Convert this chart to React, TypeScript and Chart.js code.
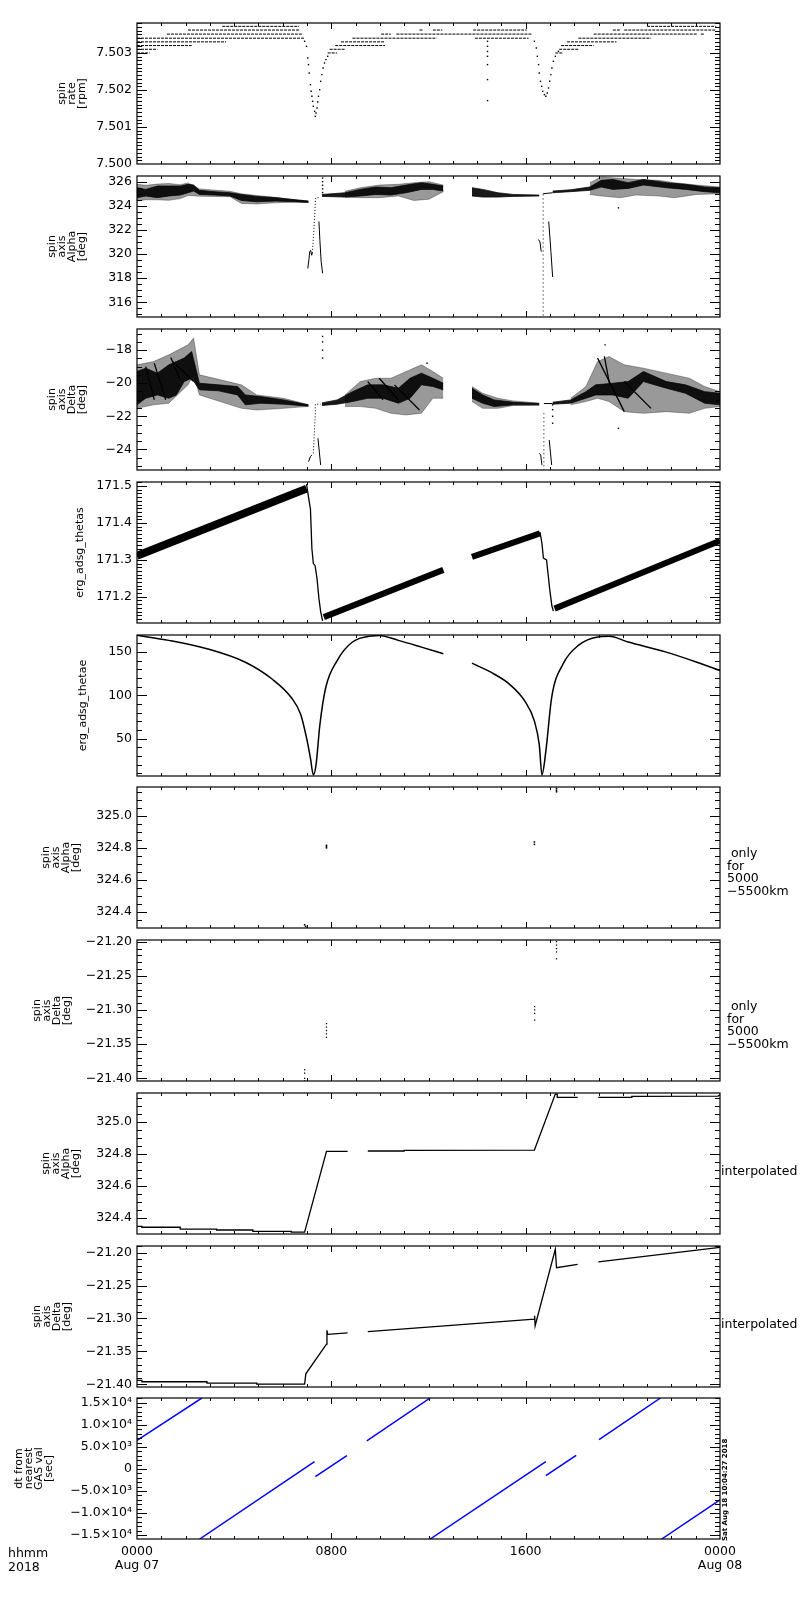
import React, { useEffect, useRef } from 'react';
import { Chart, registerables } from 'chart.js';

Chart.register(...registerables);

const FONT = '"DejaVu Sans", sans-serif';
const M = 14; // canvas margin above / below the plot box
const BOX_H = 141; // plot box height
const XLAB = 40; // room for the time labels under the last panel
const panelTops = [23, 176, 329, 482, 635, 787, 940, 1093, 1246, 1398];

// time axis, hours since 0000 Aug 07
const hourTicks = [0, 8, 16, 24];
const hourLabels = [['0000', 'Aug 07'], ['0800'], ['1600'], ['0000', 'Aug 08']];

// ---- spin rate [rpm] ----
const rateTicks = [7.5, 7.501, 7.502, 7.503];
const rateTickLabels = ['7.500', '7.501', '7.502', '7.503'];
const rateLevels = [7.50372, 7.50362, 7.50351, 7.5034, 7.5033, 7.5032, 7.5031, 7.503];
const rateRuns = [
  [[3.51, 6.67], [21.0, 23.84]],
  [[2.1, 6.67], [11.63, 11.79], [12.18, 12.57], [13.84, 16.04], [19.59, 19.9], [20.06, 23.84]],
  [[1.23, 6.82], [10.05, 10.45], [10.68, 16.28], [18.8, 23.05], [23.21, 23.37]],
  [[0, 6.9], [8.87, 12.34], [13.91, 16.12], [18.17, 21.16]],
  [[0, 3.67], [8.4, 10.21], [17.7, 19.74]],
  [[0, 2.25], [8.16, 10.21], [17.46, 18.8]],
  [[0, 0.84], [7.93, 8.56], [17.38, 18.17]],
  [[0, 0.52], [7.85, 8.24], [17.22, 17.54]],
];
const rateDip1 = [
  [6.9, 7.503315], [6.98, 7.50318], [7.03, 7.502865], [7.06, 7.502685], [7.09, 7.50246], [7.14, 7.502144],
  [7.17, 7.501964], [7.2, 7.501829], [7.23, 7.501694], [7.26, 7.501559], [7.31, 7.501423], [7.34, 7.501288],
  [7.37, 7.501378], [7.41, 7.501514], [7.44, 7.501676], [7.47, 7.501829], [7.52, 7.502009], [7.56, 7.502234],
  [7.61, 7.502414], [7.66, 7.502595], [7.72, 7.50273], [7.78, 7.50282], [7.85, 7.50291],
];
const rateDip2 = [
  [16.36, 7.503315], [16.44, 7.503135], [16.48, 7.50291], [16.53, 7.502685], [16.56, 7.50246], [16.61, 7.502234],
  [16.66, 7.502099], [16.7, 7.501964], [16.77, 7.501874], [16.83, 7.501829], [16.89, 7.501919], [16.94, 7.502054],
  [16.99, 7.502234], [17.04, 7.502414], [17.08, 7.502595], [17.14, 7.502775], [17.22, 7.50291], [17.35, 7.503045],
];
const rateStray = [[14.43, 7.503315], [14.43, 7.50318], [14.43, 7.50304], [14.43, 7.50291], [14.43, 7.502685], [14.43, 7.50228], [14.43, 7.501712]];

// ---- spin axis Alpha [deg] : [t, high, low] ----
const alphaTicks = [316, 318, 320, 322, 324, 326];
const alphaTickLabels = ['316', '318', '320', '322', '324', '326'];
const alphaEnvA = [
  [0, 325.78, 324.39], [0.36, 325.7, 324.5], [0.84, 325.8, 324.5], [1.31, 325.85, 324.45], [1.78, 325.75, 324.6],
  [2.1, 325.9, 324.85], [2.57, 325.4, 324.8], [3.83, 325.2, 324.75], [4.3, 325.0, 324.2], [4.93, 324.85, 324.15],
  [5.72, 324.7, 324.25], [6.51, 324.5, 324.3], [7.06, 324.4, 324.28],
];
const alphaCoreA = [
  [0, 325.5, 324.67], [0.36, 325.36, 324.81], [0.84, 325.64, 324.67], [1.31, 325.64, 324.81], [1.78, 325.64, 324.89],
  [2.1, 325.78, 325.08], [2.33, 325.72, 325.22], [2.57, 325.28, 324.94], [3.2, 325.17, 324.89], [3.83, 325.08, 324.81],
  [4.3, 324.94, 324.44], [4.93, 324.78, 324.33], [5.72, 324.67, 324.39], [6.51, 324.5, 324.33], [7.06, 324.39, 324.28],
];
const alphaEnvB = [
  [8.56, 325.2, 324.7], [9.19, 325.5, 324.67], [9.97, 325.72, 324.67], [10.76, 325.78, 324.81],
  [11.4, 325.92, 324.44], [12.02, 326.0, 324.55], [12.61, 325.72, 325.17],
];
const alphaCoreB = [
  [7.61, 324.94, 324.78], [8.56, 325.08, 324.72], [9.19, 325.36, 324.81], [9.82, 325.56, 324.94], [10.45, 325.5, 324.89],
  [11.08, 325.72, 325.08], [11.71, 325.92, 325.36], [12.18, 325.78, 325.36], [12.61, 325.64, 325.22],
];
const alphaCoreC = [[13.79, 325.5, 324.81], [14.23, 325.36, 324.72], [14.86, 325.08, 324.72], [15.49, 324.94, 324.78], [16.56, 324.89, 324.81]];
const alphaEnvD = [
  [18.64, 325.92, 324.94], [19.11, 326.39, 324.81], [19.9, 326.28, 324.67], [20.53, 326.19, 324.89],
  [21.48, 326.11, 324.81], [22.11, 325.92, 324.67], [23.05, 325.72, 324.94], [24, 325.56, 325.0],
];
const alphaCoreD = [
  [17.11, 325.22, 325.08], [17.85, 325.33, 325.17], [18.64, 325.56, 325.28], [19.11, 326.11, 325.56], [19.59, 326.19, 325.36],
  [20.22, 325.92, 325.44], [20.85, 326.19, 325.72], [21.79, 325.92, 325.5], [22.58, 325.78, 325.36], [23.37, 325.56, 325.17], [24, 325.5, 325.08],
];
const alphaDipA1 = [[7.03, 318.8], [7.08, 319.6], [7.11, 320.2], [7.15, 320.3], [7.19, 319.9], [7.22, 320.1]];
const alphaRiseA = [[7.22, 320.1], [7.27, 321.6], [7.31, 323.0], [7.34, 324.2], [7.36, 324.67], [7.55, 324.67]];
const alphaDipA2 = [[7.49, 322.7], [7.53, 321.1], [7.58, 319.4], [7.64, 318.4]];
const alphaSpikeA = [[7.64, 326.3], [7.64, 326.0], [7.64, 325.7], [7.64, 325.4], [7.64, 325.1]];
const alphaDipC1 = [[16.53, 321.2], [16.59, 321.0], [16.64, 320.2]];
const alphaFallC = [[16.72, 324.94], [16.72, 314.78]];
const alphaDipC2 = [[16.95, 322.7], [17.04, 320.2], [17.11, 318.1]];
const alphaFlatC = [[16.72, 325.0], [17.11, 325.08]];
const alphaStray = [[19.82, 323.83]];

// ---- spin axis Delta [deg] : [t, high, low] ----
const deltaTicks = [-24, -22, -20, -18];
const deltaTickLabels = ['−24', '−22', '−20', '−18'];
const deltaEnvA = [
  [0, -18.89, -21.52], [0.68, -18.69, -21.31], [1.31, -18.28, -21.21], [2.1, -17.68, -20.1], [2.33, -17.27, -19.49],
  [2.57, -19.49, -20.71], [4.3, -20.1, -21.52], [4.93, -20.71, -21.62], [6.04, -20.91, -21.52], [7.06, -21.3, -21.4],
];
const deltaCoreA = [
  [0, -19.29, -21.31], [0.36, -19.09, -20.91], [0.84, -19.39, -20.71], [1.31, -18.89, -20.91], [1.62, -18.69, -20.71],
  [1.94, -18.48, -19.9], [2.25, -18.08, -19.7], [2.57, -20.0, -20.4], [3.36, -20.1, -20.46], [4.14, -20.2, -20.71],
  [4.46, -20.71, -21.31], [5.09, -20.81, -21.21], [6.04, -21.01, -21.27], [7.06, -21.31, -21.39],
];
const deltaEnvB = [
  [8.56, -20.71, -21.41], [9.19, -19.9, -21.41], [9.82, -19.7, -21.52], [10.45, -19.7, -21.82],
  [11.08, -19.29, -21.92], [11.71, -18.89, -21.82], [12.18, -19.29, -20.91], [12.61, -19.7, -20.91],
];
const deltaCoreB = [
  [7.61, -21.19, -21.35], [8.24, -21.01, -21.27], [8.87, -20.51, -21.11], [9.5, -20.1, -20.91], [10.13, -20.1, -20.91],
  [10.76, -20.3, -21.21], [11.24, -19.7, -20.91], [11.71, -19.39, -20.1], [12.18, -19.7, -20.2], [12.61, -20.0, -20.4],
];
const deltaEnvC = [[13.79, -20.2, -21.11], [14.23, -20.61, -21.52], [14.86, -20.91, -21.52], [15.49, -21.07, -21.35], [16.56, -21.2, -21.33]];
const deltaCoreC = [[13.79, -20.3, -20.91], [14.23, -20.71, -21.21], [14.7, -21.01, -21.41], [15.49, -21.15, -21.31], [16.56, -21.23, -21.31]];
const deltaEnvD = [
  [17.85, -20.91, -21.31], [18.48, -20.2, -21.11], [18.96, -18.69, -20.91], [19.43, -18.38, -21.11], [20.06, -18.89, -21.72],
  [20.85, -19.09, -21.82], [21.79, -19.39, -21.72], [22.74, -19.7, -21.82], [23.37, -20.2, -21.52], [24, -20.51, -21.41],
];
const deltaCoreD = [
  [17.11, -21.15, -21.27], [17.85, -21.01, -21.21], [18.48, -20.51, -20.91], [18.88, -20.1, -20.71], [19.59, -20.0, -20.71],
  [20.22, -19.9, -20.91], [20.85, -19.29, -19.9], [21.79, -19.9, -20.3], [22.58, -20.1, -20.61], [23.37, -20.51, -21.21], [24, -20.61, -21.31],
];
const deltaSaws = [
  [[0.36, -19.0], [0.71, -21.0]], [[0.71, -18.79], [1.18, -21.0]], [[1.39, -18.44], [1.75, -19.7]], [[1.47, -18.69], [2.33, -19.9]],
  [[9.5, -19.9], [10.13, -21.0]], [[9.97, -19.7], [10.76, -21.0]], [[10.6, -20.1], [11.63, -21.62]],
  [[18.96, -18.48], [20.06, -21.72]], [[19.24, -18.38], [19.46, -20.1]], [[20.06, -19.9], [21.16, -21.52]],
];
const deltaDipA1 = [[7.06, -24.75], [7.14, -24.44], [7.2, -24.34]];
const deltaRiseA = [[7.26, -24.24], [7.34, -21.82], [7.34, -21.27], [7.56, -21.27]];
const deltaDipA2 = [[7.45, -23.33], [7.56, -24.95]];
const deltaDipC1 = [[16.56, -24.24], [16.62, -24.34], [16.67, -24.95]];
const deltaFallC = [[16.75, -21.82], [16.75, -25.25]];
const deltaDipC2 = [[16.97, -23.43], [17.07, -24.95]];
const deltaFlatC = [[16.75, -21.23], [17.11, -21.23]];
const deltaStray = [
  [7.64, -17.17], [7.64, -17.5], [7.64, -18.0], [7.64, -18.48], [11.94, -18.79],
  [17.11, -21.31], [17.11, -21.6], [17.11, -22.0], [17.11, -22.42], [19.82, -22.73], [19.27, -17.68],
];

// ---- erg_adsg_thetas ----
const thetasTicks = [171.2, 171.3, 171.4, 171.5];
const thetasTickLabels = ['171.2', '171.3', '171.4', '171.5'];
const thetasRampA = [[0, 171.311], [6.98, 171.493]];
const thetasDropA = [
  [6.98, 171.505], [7.06, 171.47], [7.14, 171.438], [7.2, 171.33], [7.26, 171.29], [7.33, 171.285],
  [7.41, 171.25], [7.49, 171.195], [7.56, 171.16], [7.64, 171.135],
];
const thetasRampB = [[7.69, 171.145], [12.61, 171.273]];
const thetasRampC = [[13.79, 171.308], [16.59, 171.372]];
const thetasDropC = [[16.59, 171.375], [16.67, 171.345], [16.73, 171.305], [16.86, 171.3], [16.99, 171.22], [17.08, 171.175], [17.14, 171.161]];
const thetasRampD = [[17.19, 171.168], [24, 171.352]];

// ---- erg_adsg_thetae ----
const thetaeTicks = [50, 100, 150];
const thetaeTickLabels = ['50', '100', '150'];
const thetaeA = [
  [0, 169.5], [1.31, 163.6], [2.88, 153.9], [4.46, 138.3], [5.56, 118.9], [6.35, 97.5], [6.74, 78.0], [6.98, 50.8],
  [7.14, 27.4], [7.26, 8.0], [7.37, 19.6], [7.53, 66.3], [7.77, 109.1], [8.24, 140.3], [8.87, 161.7], [9.66, 168.7],
  [9.97, 169.1], [10.76, 163.6], [11.71, 155.8], [12.61, 148.1],
];
const thetaeB = [
  [13.79, 137.2], [14.7, 124.7], [15.33, 113.0], [15.96, 93.6], [16.36, 70.2], [16.56, 43.0], [16.67, 8.0], [16.83, 35.2],
  [17.07, 97.5], [17.54, 136.4], [18.17, 157.8], [18.96, 167.5], [19.43, 168.3], [20.22, 161.7], [21.79, 150.0], [23.05, 138.3], [24, 128.6],
];

// ---- spin axis, 5000-5500 km only ----
const alphaKmTicks = [324.4, 324.6, 324.8, 325.0];
const alphaKmTickLabels = ['324.4', '324.6', '324.8', '325.0'];
const alphaKm = [
  [7.8, 324.816], [7.8, 324.808], [7.8, 324.8], [16.36, 324.837], [16.36, 324.822],
  [6.9, 324.32], [6.94, 324.31], [6.98, 324.298], [17.27, 325.171], [17.27, 325.16], [17.27, 325.15],
];
const deltaKmTicks = [-21.4, -21.35, -21.3, -21.25, -21.2];
const deltaKmTickLabels = ['−21.40', '−21.35', '−21.30', '−21.25', '−21.20'];
const deltaKm = [
  [17.27, -21.2], [17.27, -21.205], [17.27, -21.21], [17.27, -21.215], [17.27, -21.225],
  [16.37, -21.295], [16.37, -21.3], [16.37, -21.305], [16.37, -21.315],
  [7.8, -21.32], [7.8, -21.325], [7.8, -21.33], [7.8, -21.335], [7.8, -21.34],
  [6.9, -21.3875], [6.9, -21.3925], [6.9, -21.4], [6.9, -21.404],
];

// ---- spin axis, interpolated ----
const alphaIntA = [
  [0, 324.348], [0.2, 324.348], [0.2, 324.342], [1.78, 324.342], [1.78, 324.331], [3.28, 324.331], [3.28, 324.325],
  [4.77, 324.325], [4.77, 324.317], [6.35, 324.317], [6.35, 324.312], [6.9, 324.312], [7.8, 324.816], [8.67, 324.816],
];
const alphaIntB = [[9.5, 324.818], [11.0, 324.818], [11.0, 324.822], [16.36, 324.824], [17.22, 325.173], [17.3, 325.173], [17.3, 325.153], [18.14, 325.153]];
const alphaIntC = [[18.99, 325.153], [20.37, 325.153], [20.37, 325.159], [23.92, 325.161], [24, 325.169]];
const deltaIntA = [
  [0, -21.394], [0.2, -21.394], [0.2, -21.396], [2.88, -21.396], [2.88, -21.398], [4.93, -21.398], [4.93, -21.3995],
  [6.9, -21.3995], [6.95, -21.384], [7.8, -21.339], [7.82, -21.318], [7.85, -21.324], [8.67, -21.322],
];
const deltaIntB = [[9.5, -21.32], [16.36, -21.301], [16.37, -21.296], [16.39, -21.311], [17.22, -21.195], [17.27, -21.223], [18.14, -21.218]];
const deltaIntC = [[18.99, -21.214], [24, -21.192]];

// ---- dt from nearest GAS val [sec] ----
const dtTicks = [-15000, -10000, -5000, 0, 5000, 10000, 15000];
const dtTickLabels = ['−1.5×10⁴', '−1.0×10⁴', '−5.0×10³', '0', '5.0×10³', '1.0×10⁴', '1.5×10⁴'];
const dtSegments = [
  [[0, 6500], [2.67, 16100]],
  [[2.58, -15900], [7.31, 1667]],
  [[7.34, -1742], [8.64, 3030]],
  [[9.46, 6364], [12.07, 16100]],
  [[12.07, -15900], [16.83, 1667]],
  [[16.83, -1515], [18.08, 3106]],
  [[19.02, 6667], [21.55, 16100]],
  [[21.6, -15900], [24, -7000]],
];

const xy = (a: number[][]) => a.map(([x, y]) => ({ x, y }));
const line = (a: number[][], o: any = {}) => ({
  data: xy(a), borderColor: '#000', borderWidth: 1, pointRadius: 0, fill: false, ...o,
});
const dots = (a: number[][], r = 1) => ({
  data: xy(a), showLine: false, pointRadius: r, pointStyle: 'rect',
  pointBackgroundColor: '#000', pointBorderWidth: 0, borderColor: '#000',
});
const band = (a: number[][], color: string) => [
  { data: a.map(([x, hi]) => ({ x, y: hi })), borderColor: color, borderWidth: 0.8, pointRadius: 0, fill: false },
  { data: a.map(([x, , lo]) => ({ x, y: lo })), borderColor: color, borderWidth: 0.8, pointRadius: 0, fill: '-1', backgroundColor: color },
];
const ENV = 'rgba(0,0,0,0.4)';
const CORE = 'rgba(0,0,0,0.9)';

const rateSets = [
  ...rateLevels.map((lv, i) => ({
    data: rateRuns[i].flatMap(([a, b]) => [{ x: a, y: lv }, { x: b, y: lv }, { x: b, y: null }]),
    borderColor: '#000', borderWidth: 1, borderDash: [3, 1], pointRadius: 0, spanGaps: false,
  })),
  dots(rateDip1), dots(rateDip2), dots(rateStray),
];

const alphaSets = [
  ...band(alphaEnvA, ENV), ...band(alphaEnvB, ENV), ...band(alphaEnvD, ENV),
  ...band(alphaCoreA, CORE), ...band(alphaCoreB, CORE), ...band(alphaCoreC, CORE), ...band(alphaCoreD, CORE),
  line(alphaDipA1), line(alphaRiseA, { borderDash: [1, 2] }), line(alphaDipA2),
  line(alphaDipC1), line(alphaFallC, { borderDash: [1, 3] }), line(alphaDipC2), line(alphaFlatC),
  dots(alphaSpikeA), dots(alphaStray),
];

const deltaSets = [
  ...band(deltaEnvA, ENV), ...band(deltaEnvB, ENV), ...band(deltaEnvC, ENV), ...band(deltaEnvD, ENV),
  ...band(deltaCoreA, CORE), ...band(deltaCoreB, CORE), ...band(deltaCoreC, CORE), ...band(deltaCoreD, CORE),
  ...deltaSaws.map((s) => line(s, { borderWidth: 1.3 })),
  line(deltaDipA1), line(deltaRiseA, { borderDash: [1, 2] }), line(deltaDipA2),
  line(deltaDipC1), line(deltaFallC, { borderDash: [1, 3] }), line(deltaDipC2), line(deltaFlatC),
  dots(deltaStray),
];

const thetasSets = [
  line(thetasRampA, { borderWidth: 8 }), line(thetasRampB, { borderWidth: 6 }),
  line(thetasRampC, { borderWidth: 6 }), line(thetasRampD, { borderWidth: 6 }),
  line(thetasDropA, { borderWidth: 1.3 }), line(thetasDropC, { borderWidth: 1.3 }),
];

const thetaeSets = [
  line(thetaeA, { borderWidth: 1.5, cubicInterpolationMode: 'monotone' }),
  line(thetaeB, { borderWidth: 1.5, cubicInterpolationMode: 'monotone' }),
];

const dtSets = dtSegments.map((s) => line(s, { borderColor: '#0000ff', borderWidth: 1.5 }));

type PanelCfg = {
  top: number; yMin: number; yMax: number; ticks: number[]; labels: string[]; minor: number;
  title: string | string[]; titleX: number; datasets: any[]; xLabels?: boolean;
};

const panels: PanelCfg[] = [
  { top: panelTops[0], yMin: 7.5, yMax: 7.50381, ticks: rateTicks, labels: rateTickLabels, minor: 0.0001, title: ['spin', 'rate', '[rpm]'], titleX: 62, datasets: rateSets },
  { top: panelTops[1], yMin: 314.78, yMax: 326.47, ticks: alphaTicks, labels: alphaTickLabels, minor: 0.5, title: ['spin', 'axis', 'Alpha', '[deg]'], titleX: 52, datasets: alphaSets },
  { top: panelTops[2], yMin: -25.25, yMax: -16.72, ticks: deltaTicks, labels: deltaTickLabels, minor: 0.5, title: ['spin', 'axis', 'Delta', '[deg]'], titleX: 52, datasets: deltaSets },
  { top: panelTops[3], yMin: 171.129, yMax: 171.511, ticks: thetasTicks, labels: thetasTickLabels, minor: 0.01, title: 'erg_adsg_thetas', titleX: 80, datasets: thetasSets },
  { top: panelTops[4], yMin: 6.8, yMax: 169.8, ticks: thetaeTicks, labels: thetaeTickLabels, minor: 10, title: 'erg_adsg_thetae', titleX: 83, datasets: thetaeSets },
  { top: panelTops[5], yMin: 324.3, yMax: 325.18, ticks: alphaKmTicks, labels: alphaKmTickLabels, minor: 0.05, title: ['spin', 'axis', 'Alpha', '[deg]'], titleX: 46, datasets: [dots(alphaKm, 1.1)] },
  { top: panelTops[6], yMin: -21.404, yMax: -21.1975, ticks: deltaKmTicks, labels: deltaKmTickLabels, minor: 0.01, title: ['spin', 'axis', 'Delta', '[deg]'], titleX: 37, datasets: [dots(deltaKm, 0.9)] },
  { top: panelTops[7], yMin: 324.3, yMax: 325.18, ticks: alphaKmTicks, labels: alphaKmTickLabels, minor: 0.05, title: ['spin', 'axis', 'Alpha', '[deg]'], titleX: 46, datasets: [line(alphaIntA, { borderWidth: 1.3 }), line(alphaIntB, { borderWidth: 1.3 }), line(alphaIntC, { borderWidth: 1.3 })] },
  { top: panelTops[8], yMin: -21.404, yMax: -21.19, ticks: deltaKmTicks, labels: deltaKmTickLabels, minor: 0.01, title: ['spin', 'axis', 'Delta', '[deg]'], titleX: 37, datasets: [line(deltaIntA, { borderWidth: 1.3 }), line(deltaIntB, { borderWidth: 1.3 }), line(deltaIntC, { borderWidth: 1.3 })] },
  { top: panelTops[9], yMin: -15900, yMax: 16100, ticks: dtTicks, labels: dtTickLabels, minor: 1000, title: ['dt from', 'nearest', 'GAS val', '[sec]'], titleX: 19, datasets: dtSets, xLabels: true },
];

// IDL style box: frame plus inward ticks on all four sides
const idlFrame = {
  id: 'idlFrame',
  afterDraw(chart: any, _args: any, opts: any) {
    const { ctx, chartArea: a, scales } = chart;
    const ys = scales.y, xs = scales.x;
    ctx.save();
    ctx.strokeStyle = '#000';
    ctx.lineWidth = 1;
    ctx.beginPath();
    const tickY = (v: number, len: number) => {
      const p = Math.round(ys.getPixelForValue(v)) + 0.5;
      if (p < a.top || p > a.bottom) return;
      ctx.moveTo(a.left, p); ctx.lineTo(a.left + len, p);
      ctx.moveTo(a.right, p); ctx.lineTo(a.right - len, p);
    };
    const tickX = (v: number, len: number) => {
      const p = Math.round(xs.getPixelForValue(v)) + 0.5;
      ctx.moveTo(p, a.bottom); ctx.lineTo(p, a.bottom - len);
      ctx.moveTo(p, a.top); ctx.lineTo(p, a.top + len);
    };
    const step = opts.minor;
    for (let k = Math.ceil(opts.min / step - 1e-6); k * step <= opts.max + 1e-9; k++) tickY(k * step, 5);
    opts.ticks.forEach((v: number) => tickY(v, 10));
    for (let h = 1; h < 24; h++) tickX(h, h % 8 === 0 ? 6 : 3);
    ctx.stroke();
    ctx.lineWidth = 1.2;
    ctx.strokeRect(a.left, a.top, a.right - a.left, a.bottom - a.top);
    ctx.restore();
  },
};

function Panel({ cfg }: { cfg: PanelCfg }) {
  const ref = useRef<HTMLCanvasElement>(null);
  const h = BOX_H + M + (cfg.xLabels ? XLAB : M);

  useEffect(() => {
    if (!ref.current) return;
    const titleLines = Array.isArray(cfg.title) ? cfg.title : [cfg.title];
    const chart = new Chart(ref.current, {
      type: 'line',
      data: { datasets: cfg.datasets },
      options: {
        responsive: false,
        animation: false,
        events: [],
        layout: { padding: { left: 0, right: 80, top: M, bottom: cfg.xLabels ? 0 : M } },
        plugins: {
          legend: { display: false },
          tooltip: { enabled: false },
          idlFrame: { min: cfg.yMin, max: cfg.yMax, ticks: cfg.ticks, minor: cfg.minor },
        } as any,
        scales: {
          x: {
            type: 'linear', min: 0, max: 24, display: !!cfg.xLabels,
            grid: { display: false, drawTicks: false }, border: { display: false },
            afterBuildTicks: (s: any) => { s.ticks = hourTicks.map((v) => ({ value: v })); },
            afterFit: (s: any) => { s.height = cfg.xLabels ? XLAB : 0; },
            ticks: {
              autoSkip: false, maxRotation: 0, padding: 6, color: '#000',
              font: { family: FONT, size: 12.5, lineHeight: 1.1 },
              callback: (_v: any, i: number) => hourLabels[i],
            },
          },
          y: {
            type: 'linear', min: cfg.yMin, max: cfg.yMax,
            grid: { display: false, drawTicks: false }, border: { display: false },
            afterBuildTicks: (s: any) => { s.ticks = cfg.ticks.map((v) => ({ value: v })); },
            afterFit: (s: any) => { s.width = 137; },
            ticks: {
              padding: 5, color: '#000', font: { family: FONT, size: 12.5 },
              callback: (_v: any, i: number) => cfg.labels[i],
            },
            title: {
              display: true, text: titleLines, color: '#000',
              font: { family: FONT, size: 11, lineHeight: 0.9 },
              padding: { top: cfg.titleX - 5, bottom: 0 },
            },
          },
        },
      } as any,
      plugins: [idlFrame],
    });
    return () => chart.destroy();
  }, [cfg]);

  return (
    <canvas
      ref={ref}
      width={800}
      height={h}
      style={{ position: 'absolute', left: 0, top: cfg.top - M, width: 800, height: h }}
    />
  );
}

const sideText: React.CSSProperties = {
  position: 'absolute', fontFamily: FONT, fontSize: 12.5, lineHeight: '12.5px', color: '#000', whiteSpace: 'pre',
};

export default function App() {
  return (
    <div style={{ position: 'absolute', left: 0, top: 0, width: 800, height: 1600, background: '#fff', overflow: 'hidden' }}>
      {panels.map((p, i) => <Panel key={i} cfg={p} />)}
      <div style={{ ...sideText, left: 727, top: 847 }}>{' only\nfor\n5000\n−5500km'}</div>
      <div style={{ ...sideText, left: 727, top: 1000 }}>{' only\nfor\n5000\n−5500km'}</div>
      <div style={{ ...sideText, left: 721, top: 1165 }}>interpolated</div>
      <div style={{ ...sideText, left: 721, top: 1318 }}>interpolated</div>
      <div style={{ ...sideText, left: 8, top: 1546, lineHeight: '13.5px' }}>{'hhmm\n2018'}</div>
      <div
        style={{
          position: 'absolute', left: 725 - 47, top: 1494 - 4, width: 94, height: 8, fontFamily: FONT,
          fontSize: 7, lineHeight: '8px', fontWeight: 'bold', color: '#000', whiteSpace: 'pre', textAlign: 'center',
          transform: 'rotate(-90deg)', transformOrigin: 'center',
        }}
      >
        Sat Aug 18 10:04:27 2018
      </div>
    </div>
  );
}
